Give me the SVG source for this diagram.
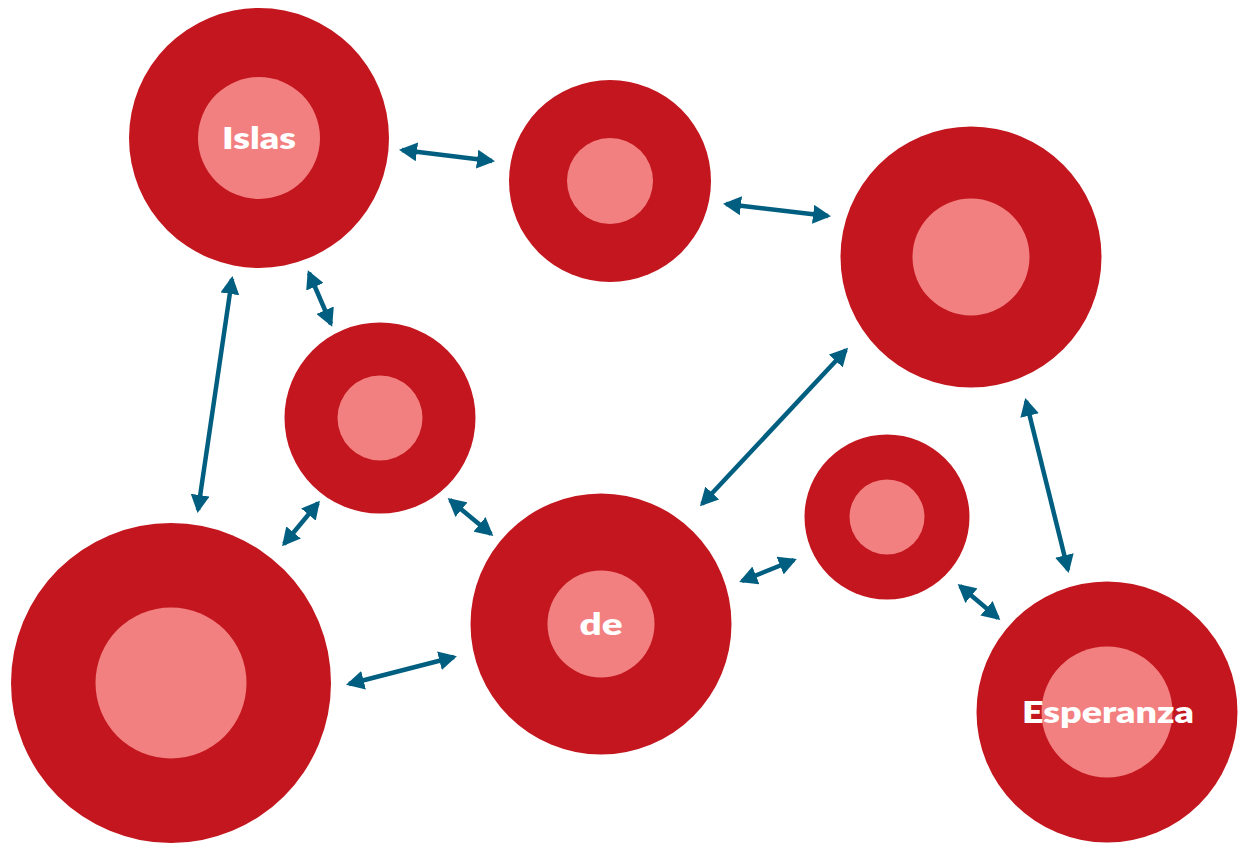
<svg xmlns="http://www.w3.org/2000/svg" width="1238" height="845" viewBox="0 0 1238 845">
<defs>
<style>
.outer{fill:#C3161E}
.inner{fill:#F38080}
.lbl{fill:#ffffff;font-family:Lato,"Open Sans","Liberation Sans",sans-serif;font-weight:800;font-size:31px;text-anchor:middle;dominant-baseline:central}
</style>
<marker id="ah" viewBox="0 0 18 19" refX="15" refY="9.5" markerWidth="18" markerHeight="19" orient="auto-start-reverse" markerUnits="userSpaceOnUse">
<path d="M0,0 L18,9.5 L0,19 z" fill="#005E80"/>
</marker>
</defs>
<rect width="1238" height="845" fill="#ffffff"/>
<g id="node-islas"><circle class="outer" cx="259" cy="138" r="130"/><circle class="inner" cx="259" cy="138" r="61"/><text class="lbl" x="259" y="137" textLength="74" lengthAdjust="spacingAndGlyphs">Islas</text></g>
<g id="node-top-mid"><circle class="outer" cx="610" cy="181" r="101"/><circle class="inner" cx="610" cy="181" r="43"/></g>
<g id="node-top-right"><circle class="outer" cx="971" cy="257" r="130.5"/><circle class="inner" cx="971" cy="257" r="58.5"/></g>
<g id="node-mid-left"><circle class="outer" cx="380" cy="418" r="95.5"/><circle class="inner" cx="380" cy="418" r="42.5"/></g>
<g id="node-bottom-left"><circle class="outer" cx="171" cy="683" r="160"/><circle class="inner" cx="171" cy="683" r="75.5"/></g>
<g id="node-de"><circle class="outer" cx="601" cy="624" r="130.5"/><circle class="inner" cx="601" cy="624" r="53.5"/><text class="lbl" x="601" y="623" textLength="43" lengthAdjust="spacingAndGlyphs">de</text></g>
<g id="node-small-right"><circle class="outer" cx="887" cy="517" r="82.5"/><circle class="inner" cx="887" cy="517" r="37.5"/></g>
<g id="node-esperanza"><circle class="outer" cx="1107" cy="712" r="130.5"/><circle class="inner" cx="1107" cy="712" r="65.5"/><text class="lbl" x="1108" y="711" textLength="172" lengthAdjust="spacingAndGlyphs">Esperanza</text></g>
<g id="connectors" stroke="#005E80" stroke-width="4.5" fill="none" marker-start="url(#ah)" marker-end="url(#ah)">
<line x1="402" y1="150" x2="492" y2="161"/>
<line x1="726" y1="204" x2="828" y2="216"/>
<line x1="232" y1="279" x2="198" y2="510"/>
<line x1="309" y1="273" x2="331" y2="324"/>
<line x1="318" y1="503" x2="284" y2="544"/>
<line x1="450" y1="500" x2="491" y2="534"/>
<line x1="846" y1="350" x2="702" y2="504"/>
<line x1="1026" y1="401" x2="1068" y2="570"/>
<line x1="742" y1="581" x2="794" y2="560"/>
<line x1="960" y1="586" x2="998" y2="618"/>
<line x1="349" y1="684" x2="454" y2="657"/>
</g>
</svg>
